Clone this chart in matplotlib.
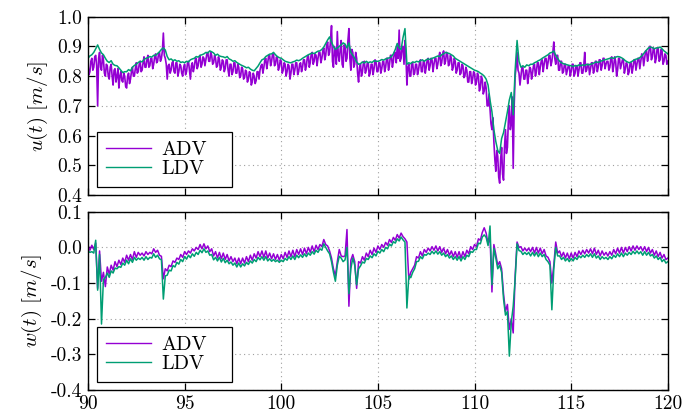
import numpy as np
import matplotlib
matplotlib.use("Agg")
import matplotlib.pyplot as plt

# ---------------- data ----------------
t_start, t_end = 90.0, 120.0
dt_adv_u = 0.05   # ADV u(t) sampling step [s]
dt_other = 0.1    # sampling step of the other series [s]

adv_u = [
    0.840, 0.805, 0.815, 0.850, 0.860, 0.820, 0.830, 0.865, 0.870, 0.835, 0.700, 0.860, 0.880, 0.830, 0.820, 0.870, 0.855, 0.810, 0.800, 0.840,
    0.835, 0.800, 0.790, 0.830, 0.840, 0.800, 0.770, 0.820, 0.825, 0.780, 0.800, 0.825, 0.760, 0.800, 0.815, 0.785, 0.780, 0.810, 0.800, 0.765,
    0.760, 0.800, 0.810, 0.775, 0.790, 0.815, 0.830, 0.800, 0.800, 0.825, 0.845, 0.810, 0.815, 0.840, 0.850, 0.815, 0.820, 0.845, 0.865, 0.830,
    0.830, 0.855, 0.870, 0.830, 0.835, 0.860, 0.860, 0.825, 0.840, 0.865, 0.875, 0.845, 0.850, 0.875, 0.880, 0.850, 0.860, 0.885, 0.945, 0.870,
    0.860, 0.840, 0.790, 0.835, 0.840, 0.810, 0.820, 0.845, 0.850, 0.815, 0.810, 0.845, 0.845, 0.800, 0.815, 0.840, 0.835, 0.810, 0.800, 0.830,
    0.840, 0.805, 0.815, 0.845, 0.850, 0.820, 0.790, 0.835, 0.845, 0.815, 0.830, 0.855, 0.860, 0.825, 0.835, 0.860, 0.870, 0.830, 0.840, 0.865,
    0.860, 0.835, 0.855, 0.875, 0.880, 0.850, 0.850, 0.880, 0.870, 0.840, 0.845, 0.870, 0.860, 0.830, 0.835, 0.865, 0.855, 0.820, 0.830, 0.855,
    0.850, 0.815, 0.825, 0.855, 0.855, 0.820, 0.800, 0.840, 0.840, 0.805, 0.815, 0.845, 0.845, 0.810, 0.810, 0.840, 0.830, 0.795, 0.800, 0.830,
    0.825, 0.790, 0.795, 0.820, 0.815, 0.780, 0.790, 0.815, 0.810, 0.770, 0.780, 0.810, 0.800, 0.775, 0.785, 0.815, 0.815, 0.790, 0.820, 0.835,
    0.840, 0.810, 0.830, 0.855, 0.860, 0.825, 0.845, 0.870, 0.870, 0.835, 0.850, 0.875, 0.875, 0.835, 0.840, 0.865, 0.860, 0.820, 0.830, 0.855,
    0.850, 0.810, 0.820, 0.845, 0.840, 0.800, 0.815, 0.840, 0.835, 0.790, 0.810, 0.840, 0.840, 0.805, 0.820, 0.845, 0.845, 0.805, 0.815, 0.840,
    0.845, 0.815, 0.830, 0.855, 0.855, 0.820, 0.835, 0.865, 0.870, 0.830, 0.845, 0.875, 0.880, 0.840, 0.850, 0.875, 0.870, 0.835, 0.860, 0.880,
    0.880, 0.845, 0.860, 0.885, 0.895, 0.855, 0.870, 0.905, 0.915, 0.870, 0.880, 0.920, 0.970, 0.850, 0.830, 0.900, 0.880, 0.840, 0.950, 0.870,
    0.850, 0.890, 0.920, 0.840, 0.830, 0.905, 0.900, 0.850, 0.860, 0.920, 0.960, 0.860, 0.820, 0.890, 0.880, 0.830, 0.840, 0.880, 0.860, 0.810,
    0.780, 0.830, 0.840, 0.800, 0.815, 0.845, 0.850, 0.810, 0.820, 0.845, 0.845, 0.800, 0.810, 0.840, 0.840, 0.805, 0.825, 0.855, 0.850, 0.815,
    0.815, 0.845, 0.845, 0.810, 0.825, 0.850, 0.850, 0.815, 0.830, 0.860, 0.860, 0.820, 0.840, 0.870, 0.870, 0.830, 0.850, 0.880, 0.880, 0.845,
    0.900, 0.860, 0.955, 0.850, 0.860, 0.900, 0.900, 0.840, 0.920, 0.870, 0.770, 0.830, 0.840, 0.800, 0.800, 0.845, 0.845, 0.805, 0.810, 0.840,
    0.840, 0.805, 0.820, 0.845, 0.855, 0.815, 0.815, 0.850, 0.850, 0.810, 0.830, 0.855, 0.860, 0.820, 0.835, 0.860, 0.855, 0.815, 0.840, 0.860,
    0.860, 0.825, 0.840, 0.865, 0.880, 0.835, 0.845, 0.875, 0.885, 0.840, 0.850, 0.880, 0.875, 0.835, 0.840, 0.870, 0.860, 0.820, 0.830, 0.860,
    0.850, 0.810, 0.820, 0.845, 0.845, 0.805, 0.810, 0.840, 0.835, 0.795, 0.800, 0.830, 0.820, 0.780, 0.780, 0.815, 0.815, 0.775, 0.790, 0.815,
    0.810, 0.770, 0.780, 0.810, 0.800, 0.750, 0.760, 0.800, 0.790, 0.740, 0.750, 0.780, 0.760, 0.700, 0.700, 0.740, 0.690, 0.640, 0.620, 0.660,
    0.580, 0.520, 0.480, 0.550, 0.530, 0.460, 0.440, 0.520, 0.560, 0.470, 0.450, 0.560, 0.620, 0.540, 0.560, 0.650, 0.700, 0.620, 0.640, 0.730,
    0.490, 0.700, 0.800, 0.830, 0.880, 0.820, 0.810, 0.770, 0.800, 0.830, 0.830, 0.790, 0.790, 0.820, 0.820, 0.775, 0.800, 0.830, 0.825, 0.790,
    0.810, 0.835, 0.840, 0.800, 0.815, 0.845, 0.845, 0.805, 0.830, 0.850, 0.855, 0.815, 0.840, 0.860, 0.860, 0.825, 0.845, 0.870, 0.870, 0.835,
    0.850, 0.880, 0.915, 0.860, 0.840, 0.870, 0.870, 0.820, 0.820, 0.850, 0.850, 0.810, 0.815, 0.840, 0.840, 0.805, 0.820, 0.835, 0.835, 0.800,
    0.815, 0.840, 0.840, 0.800, 0.810, 0.835, 0.835, 0.800, 0.820, 0.845, 0.845, 0.810, 0.810, 0.835, 0.880, 0.815, 0.820, 0.840, 0.840, 0.805,
    0.825, 0.845, 0.845, 0.810, 0.820, 0.850, 0.850, 0.815, 0.830, 0.855, 0.855, 0.820, 0.835, 0.860, 0.860, 0.825, 0.840, 0.850, 0.850, 0.820,
    0.830, 0.860, 0.865, 0.815, 0.835, 0.865, 0.850, 0.800, 0.820, 0.860, 0.860, 0.825, 0.840, 0.855, 0.855, 0.810, 0.825, 0.845, 0.840, 0.805,
    0.815, 0.845, 0.845, 0.810, 0.830, 0.855, 0.855, 0.820, 0.840, 0.860, 0.860, 0.825, 0.850, 0.875, 0.870, 0.835, 0.860, 0.885, 0.885, 0.850,
    0.870, 0.900, 0.900, 0.855, 0.865, 0.895, 0.890, 0.845, 0.860, 0.895, 0.895, 0.850, 0.855, 0.890, 0.885, 0.840, 0.850, 0.875, 0.870, 0.840,
    0.850,
]

ldv_u = [
    0.860, 0.868, 0.872, 0.880, 0.892, 0.905, 0.890, 0.878, 0.872, 0.860,
    0.850, 0.846, 0.852, 0.840, 0.836, 0.835, 0.828, 0.820, 0.812, 0.815,
    0.815, 0.822, 0.818, 0.830, 0.836, 0.840, 0.846, 0.850, 0.848, 0.856,
    0.860, 0.862, 0.866, 0.864, 0.870, 0.870, 0.876, 0.882, 0.890, 0.895,
    0.888, 0.866, 0.855, 0.858, 0.852, 0.855, 0.850, 0.852, 0.846, 0.848,
    0.845, 0.850, 0.848, 0.855, 0.858, 0.860, 0.866, 0.864, 0.870, 0.872,
    0.875, 0.880, 0.878, 0.885, 0.882, 0.878, 0.870, 0.874, 0.868, 0.866,
    0.865, 0.862, 0.866, 0.858, 0.855, 0.850, 0.852, 0.846, 0.842, 0.838,
    0.835, 0.832, 0.828, 0.830, 0.824, 0.820, 0.818, 0.826, 0.834, 0.845,
    0.855, 0.858, 0.866, 0.870, 0.874, 0.875, 0.880, 0.872, 0.866, 0.862,
    0.860, 0.855, 0.850, 0.848, 0.846, 0.845, 0.848, 0.850, 0.854, 0.852,
    0.855, 0.860, 0.864, 0.868, 0.872, 0.875, 0.878, 0.876, 0.880, 0.884,
    0.885, 0.890, 0.898, 0.910, 0.922, 0.932, 0.915, 0.900, 0.890, 0.895,
    0.900, 0.905, 0.912, 0.908, 0.895, 0.912, 0.880, 0.870, 0.860, 0.848,
    0.840, 0.842, 0.848, 0.844, 0.850, 0.845, 0.848, 0.846, 0.852, 0.850,
    0.850, 0.852, 0.856, 0.854, 0.858, 0.860, 0.862, 0.866, 0.875, 0.890,
    0.910, 0.895, 0.890, 0.930, 0.960, 0.840, 0.845, 0.842, 0.848, 0.846,
    0.850, 0.848, 0.852, 0.855, 0.850, 0.855, 0.858, 0.856, 0.860, 0.862,
    0.865, 0.868, 0.866, 0.872, 0.875, 0.880, 0.878, 0.876, 0.872, 0.868,
    0.860, 0.856, 0.852, 0.848, 0.844, 0.840, 0.836, 0.832, 0.828, 0.824,
    0.820, 0.818, 0.815, 0.810, 0.806, 0.800, 0.790, 0.770, 0.720, 0.680,
    0.620, 0.580, 0.550, 0.540, 0.590, 0.610, 0.645, 0.680, 0.720, 0.745,
    0.670, 0.820, 0.920, 0.850, 0.830, 0.835, 0.830, 0.838, 0.835, 0.840,
    0.840, 0.845, 0.848, 0.852, 0.855, 0.860, 0.864, 0.868, 0.872, 0.878,
    0.880, 0.885, 0.870, 0.860, 0.850, 0.845, 0.842, 0.840, 0.838, 0.836,
    0.835, 0.832, 0.836, 0.834, 0.838, 0.835, 0.838, 0.836, 0.840, 0.838,
    0.840, 0.842, 0.845, 0.848, 0.846, 0.850, 0.852, 0.855, 0.856, 0.858,
    0.860, 0.862, 0.860, 0.864, 0.866, 0.865, 0.862, 0.858, 0.852, 0.848,
    0.845, 0.848, 0.852, 0.856, 0.858, 0.860, 0.865, 0.872, 0.880, 0.888,
    0.895, 0.898, 0.896, 0.892, 0.895, 0.895, 0.898, 0.892, 0.885, 0.880,
    0.875,
]

adv_w = [
    0.006, -0.008, 0.006, -0.006, 0.012, -0.115, -0.010, -0.095, -0.070, -0.110,
    -0.055, -0.075, -0.050, -0.064, -0.040, -0.054, -0.036, -0.048, -0.030, -0.042,
    -0.022, -0.036, -0.020, -0.034, -0.012, -0.028, -0.014, -0.022, -0.016, -0.024,
    -0.012, -0.020, -0.014, -0.018, -0.004, -0.014, -0.008, -0.022, -0.025, -0.088,
    -0.060, -0.066, -0.050, -0.054, -0.038, -0.042, -0.030, -0.034, -0.020, -0.028,
    -0.012, -0.020, -0.010, -0.016, -0.004, -0.010, 0.000, -0.006, 0.008, -0.004,
    0.010, -0.004, 0.004, -0.012, -0.004, -0.024, -0.012, -0.030, -0.014, -0.032,
    -0.016, -0.034, -0.020, -0.038, -0.026, -0.040, -0.030, -0.046, -0.030, -0.046,
    -0.030, -0.044, -0.026, -0.040, -0.022, -0.036, -0.018, -0.030, -0.012, -0.026,
    -0.010, -0.028, -0.010, -0.030, -0.016, -0.032, -0.018, -0.034, -0.020, -0.036,
    -0.020, -0.032, -0.014, -0.028, -0.010, -0.026, -0.008, -0.026, -0.006, -0.020,
    -0.004, -0.020, -0.002, -0.018, 0.000, -0.014, 0.004, -0.012, 0.006, -0.006,
    0.008, 0.002, 0.022, 0.008, 0.004, -0.010, -0.030, -0.060, -0.080, -0.040,
    -0.006, -0.024, -0.026, -0.024, 0.050, -0.165, -0.036, -0.020, -0.040, -0.115,
    -0.040, -0.044, -0.026, -0.036, -0.016, -0.026, -0.008, -0.020, -0.002, -0.014,
    0.004, -0.006, 0.008, 0.000, 0.014, 0.006, 0.022, 0.014, 0.028, 0.020,
    0.036, 0.026, 0.040, 0.030, 0.024, 0.015, -0.090, -0.070, -0.060, -0.050,
    -0.026, -0.030, -0.012, -0.024, -0.006, -0.014, -0.002, -0.010, 0.002, -0.008,
    0.004, -0.010, 0.002, -0.014, -0.002, -0.018, -0.006, -0.022, -0.010, -0.026,
    -0.012, -0.028, -0.012, -0.030, -0.012, -0.026, -0.008, -0.018, 0.002, -0.006,
    0.008, 0.002, 0.024, 0.020, 0.042, 0.055, 0.040, 0.010, 0.030, -0.125,
    0.008, -0.020, -0.050, -0.040, -0.060, -0.130, -0.180, -0.160, -0.230, -0.200,
    -0.240, -0.080, 0.015, 0.000, 0.002, -0.010, -0.002, -0.010, -0.002, -0.012,
    0.000, -0.016, 0.000, -0.016, -0.002, -0.018, -0.006, -0.024, -0.028, -0.040,
    -0.100, -0.050, 0.015, -0.016, -0.010, -0.026, -0.014, -0.030, -0.016, -0.032,
    -0.016, -0.030, -0.014, -0.026, -0.010, -0.020, -0.008, -0.018, -0.006, -0.016,
    -0.004, -0.018, -0.002, -0.020, -0.008, -0.024, -0.010, -0.022, -0.014, -0.024,
    -0.012, -0.022, -0.006, -0.018, -0.002, -0.016, 0.000, -0.016, 0.000, -0.012,
    0.002, -0.010, 0.004, -0.008, 0.004, -0.006, 0.002, -0.010, 0.002, -0.012,
    0.000, -0.016, -0.006, -0.022, -0.010, -0.026, -0.014, -0.030, -0.020, -0.034,
    -0.030,
]

ldv_w = [
    -0.010, -0.014, -0.012, -0.016, 0.020, -0.120, -0.020, -0.215, -0.090, -0.085,
    -0.072, -0.084, -0.066, -0.072, -0.058, -0.060, -0.054, -0.056, -0.044, -0.050,
    -0.036, -0.046, -0.032, -0.042, -0.028, -0.036, -0.030, -0.034, -0.028, -0.036,
    -0.026, -0.034, -0.028, -0.030, -0.018, -0.028, -0.022, -0.032, -0.035, -0.145,
    -0.080, -0.078, -0.064, -0.066, -0.051, -0.055, -0.042, -0.047, -0.034, -0.040,
    -0.026, -0.033, -0.022, -0.029, -0.018, -0.025, -0.014, -0.020, -0.008, -0.015,
    -0.004, -0.014, -0.010, -0.022, -0.020, -0.035, -0.028, -0.038, -0.028, -0.041,
    -0.031, -0.043, -0.036, -0.046, -0.041, -0.050, -0.044, -0.055, -0.044, -0.055,
    -0.046, -0.052, -0.042, -0.048, -0.038, -0.044, -0.034, -0.040, -0.028, -0.035,
    -0.026, -0.036, -0.026, -0.038, -0.032, -0.039, -0.034, -0.040, -0.036, -0.042,
    -0.036, -0.040, -0.031, -0.036, -0.026, -0.034, -0.024, -0.034, -0.022, -0.029,
    -0.021, -0.028, -0.018, -0.026, -0.016, -0.022, -0.012, -0.019, -0.008, -0.014,
    -0.004, -0.008, 0.010, 0.000, -0.010, -0.018, -0.040, -0.070, -0.095, -0.050,
    -0.025, -0.030, -0.040, -0.035, 0.000, -0.130, -0.060, -0.030, -0.050, -0.105,
    -0.060, -0.052, -0.041, -0.044, -0.031, -0.034, -0.024, -0.029, -0.018, -0.024,
    -0.011, -0.016, -0.006, -0.012, 0.000, -0.004, 0.009, 0.004, 0.016, 0.012,
    0.024, 0.018, 0.029, 0.021, 0.015, -0.170, -0.080, -0.085, -0.070, -0.060,
    -0.040, -0.039, -0.026, -0.032, -0.020, -0.022, -0.016, -0.020, -0.011, -0.018,
    -0.010, -0.019, -0.012, -0.022, -0.016, -0.026, -0.020, -0.030, -0.024, -0.034,
    -0.026, -0.036, -0.026, -0.038, -0.026, -0.034, -0.022, -0.026, -0.012, -0.014,
    -0.006, -0.006, 0.012, 0.010, 0.029, 0.035, 0.028, 0.005, 0.060, -0.105,
    -0.003, -0.030, -0.060, -0.050, -0.070, -0.145, -0.190, -0.180, -0.305, -0.210,
    -0.165, -0.090, 0.010, -0.009, -0.011, -0.020, -0.014, -0.020, -0.014, -0.024,
    -0.014, -0.024, -0.014, -0.026, -0.016, -0.026, -0.020, -0.034, -0.040, -0.050,
    -0.175, -0.060, 0.000, -0.024, -0.024, -0.034, -0.028, -0.038, -0.031, -0.040,
    -0.031, -0.038, -0.028, -0.034, -0.024, -0.029, -0.022, -0.028, -0.020, -0.026,
    -0.018, -0.028, -0.018, -0.030, -0.024, -0.034, -0.026, -0.032, -0.028, -0.034,
    -0.026, -0.032, -0.022, -0.028, -0.018, -0.026, -0.016, -0.026, -0.016, -0.022,
    -0.014, -0.020, -0.011, -0.018, -0.010, -0.018, -0.012, -0.022, -0.012, -0.022,
    -0.014, -0.024, -0.020, -0.030, -0.024, -0.034, -0.028, -0.040, -0.034, -0.044,
    -0.040,
]

x_ticks = [90, 95, 100, 105, 110, 115, 120]
x_tick_labels = ["90", "95", "100", "105", "110", "115", "120"]
u_ticks = [0.4, 0.5, 0.6, 0.7, 0.8, 0.9, 1.0]
u_tick_labels = ["0.4", "0.5", "0.6", "0.7", "0.8", "0.9", "1.0"]
w_ticks = [-0.4, -0.3, -0.2, -0.1, 0.0, 0.1]
w_tick_labels = ["-0.4", "-0.3", "-0.2", "-0.1", "0.0", "0.1"]
series_labels = ["ADV", "LDV"]

# ---------------- style ----------------
plt.rcParams["font.family"] = ["cmr10", "DejaVu Serif"]
plt.rcParams["mathtext.fontset"] = "cm"
plt.rcParams["axes.unicode_minus"] = False

C_ADV = "#9400D3"
C_LDV = "#009E73"

t_fine = np.linspace(t_start, t_end, len(adv_u))
t_coarse = np.linspace(t_start, t_end, len(ldv_u))

fig = plt.figure(figsize=(6.83, 4.19), dpi=100)
ax1 = fig.add_axes([0.1288, 0.5346, 0.849, 0.4255])
ax2 = fig.add_axes([0.1288, 0.0692, 0.849, 0.4255])


def style(ax, yticks, ylabels, ylim, show_x):
    ax.set_xlim(90, 120)
    ax.set_ylim(*ylim)
    ax.set_xticks(x_ticks)
    if show_x:
        ax.set_xticklabels(x_tick_labels)
    else:
        ax.set_xticklabels([])
    ax.set_yticks(yticks)
    ax.set_yticklabels(ylabels)
    ax.tick_params(direction="in", top=True, right=True, length=5,
                   width=0.9, labelsize=14, pad=4)
    ax.grid(True, color="#a0a0a0", linestyle=(0, (1, 3)), linewidth=0.8)
    for s in ax.spines.values():
        s.set_linewidth(1.0)


ax1.plot(t_fine, adv_u, color=C_ADV, lw=1.2, label=series_labels[0])
ax1.plot(t_coarse, ldv_u, color=C_LDV, lw=1.1, label=series_labels[1])
style(ax1, u_ticks, u_tick_labels, (0.4, 1.0), False)
ax1.set_ylabel(r"$u(t)\ [m/s]$", fontsize=15, labelpad=5)

ax2.plot(t_coarse, adv_w, color=C_ADV, lw=1.1, label=series_labels[0])
ax2.plot(t_coarse, ldv_w, color=C_LDV, lw=1.1, label=series_labels[1])
style(ax2, w_ticks, w_tick_labels, (-0.4, 0.1), True)
ax2.set_ylabel(r"$w(t)\ [m/s]$", fontsize=15, labelpad=5)

for ax in (ax1, ax2):
    leg = ax.legend(loc="lower left", bbox_to_anchor=(0.0155, 0.045, 0.2328, 0.32),
                    mode="expand", borderaxespad=0, fancybox=False, framealpha=1,
                    edgecolor="black", fontsize=14.5, handlelength=2.25,
                    handletextpad=0.5, labelspacing=0.05, borderpad=0.45)
    leg.get_frame().set_linewidth(0.9)
    for ln in leg.get_lines():
        ln.set_linewidth(1.0)

fig.savefig("out.png", dpi=100)
